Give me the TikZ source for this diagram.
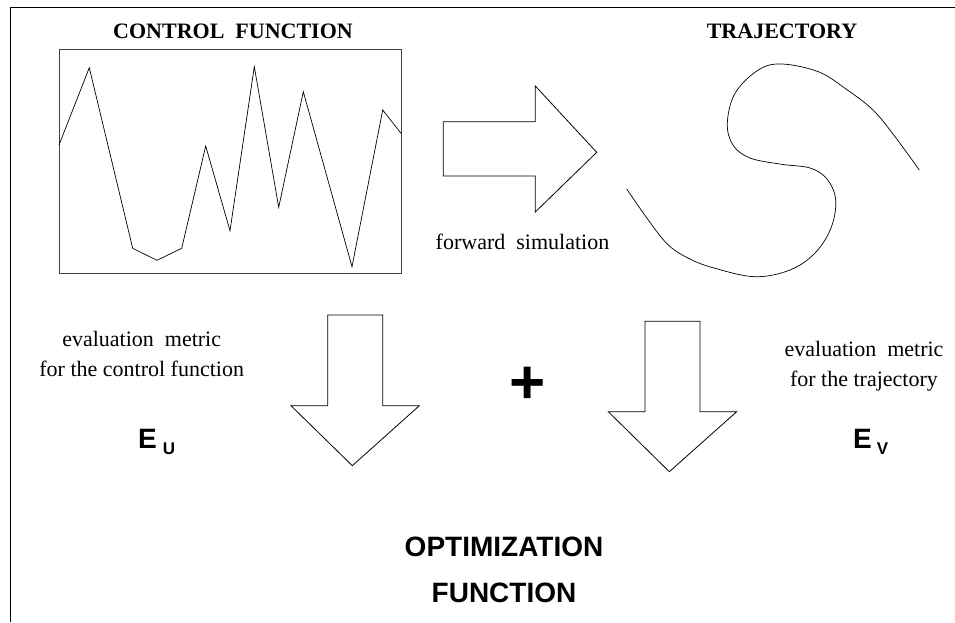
\documentclass[tikz,border=0pt]{standalone}
\usepackage{fontspec}
\setmainfont{Liberation Serif}
\setsansfont{Liberation Sans}
\usepackage{tikz}
\usetikzlibrary{positioning}

\tikzset{
  title/.style={font=\fontsize{22}{30}\selectfont\bfseries},
  note/.style={font=\fontsize{22}{30}\selectfont, align=center},
  bigsans/.style={font=\fontsize{28}{46}\selectfont\sffamily\bfseries, align=center},
  blockarrow/.style={line width=0.8pt, line join=miter},
}

\begin{document}
\begin{tikzpicture}[x=1pt, y=-1pt]
                \useasboundingbox (0,0) rectangle (955,622);
                % frame
                \draw[line width=0.9pt] (10,622) -- (10,7) -- (955,7);
                % Draw the control box
                \draw[line width=0.9pt, draw=black!75] (59,49) rectangle (401,273);
                \draw[line width=0.7pt] (59,145) -- (89.3,67.7) -- (132.7,248.3) -- (157,260.3)
                  -- (181.7,248.3) -- (205.7,146) -- (230,230.7) -- (254.3,66.7) -- (278.7,207.3)
                  -- (303.3,91.7) -- (352,266.7) -- (382.7,110) -- (401,133.3);
                \node[title] (ctitle) at (233,31) {CONTROL\ \ FUNCTION};
                % forward arrow
                \draw[blockarrow] (443.3,121.7) -- (535.3,121.7) -- (535.3,86) -- (596.7,152.3)
                  -- (535.3,212) -- (535.3,176) -- (443.3,176) -- cycle;
                \node[note] (fwd) at (522.5,242) {forward\ \ simulation};
                % the trajectory
                \node[title] (ttitle) at (782,31) {TRAJECTORY};
                \draw[line width=0.7pt] plot[smooth, tension=0.6] coordinates {(626.7,189) (648.3,220)
                  (668.3,245) (690,259) (715,268.3) (755,276.7) (790,270) (815,253) (831,228)
                  (835.7,200) (827,179) (810,168) (781.7,164.3) (750,158) (733,145) (727.3,123.3)
                  (735,93.3) (758.3,70) (781.7,64) (818.3,71.7) (845,88.3) (873,110) (895,136.7)
                  (919.3,170)};
                % down arrows
                \draw[blockarrow] (327.7,315) -- (382.7,315) -- (382.7,405.7) -- (419.3,405.7)
                  -- (352.3,465.7) -- (291,405.7) -- (327.7,405.7) -- cycle;
                \draw[blockarrow] (645,321.3) -- (700,321.3) -- (700,411.7) -- (736.7,411.7)
                  -- (669.3,471.7) -- (608.3,411.7) -- (645,411.7) -- cycle;
                \node[font=\fontsize{62}{62}\selectfont\sffamily\bfseries, inner sep=0pt] (plus) at (527.7,385) {+};
                % evaluation metrics
                \node[note] (evalu) at (141.7,354) {evaluation\ \ metric\\for the control function};
                \node[note] (evalv) at (864,366) {evaluation\ \ metric\\for the trajectory};
                \node[bigsans, anchor=base west, inner sep=0pt] (eu) at (138,448.3)
                  {E\hspace{6pt}\raisebox{-6pt}{\fontsize{17}{17}\selectfont U}};
                \node[bigsans, anchor=base west, inner sep=0pt] (ev) at (853,448)
                  {E\hspace{5pt}\raisebox{-6pt}{\fontsize{17}{17}\selectfont V}};
                % result
                \node[bigsans] (opt) at (504,570) {OPTIMIZATION\\FUNCTION};
              \end{tikzpicture}
\end{document}
